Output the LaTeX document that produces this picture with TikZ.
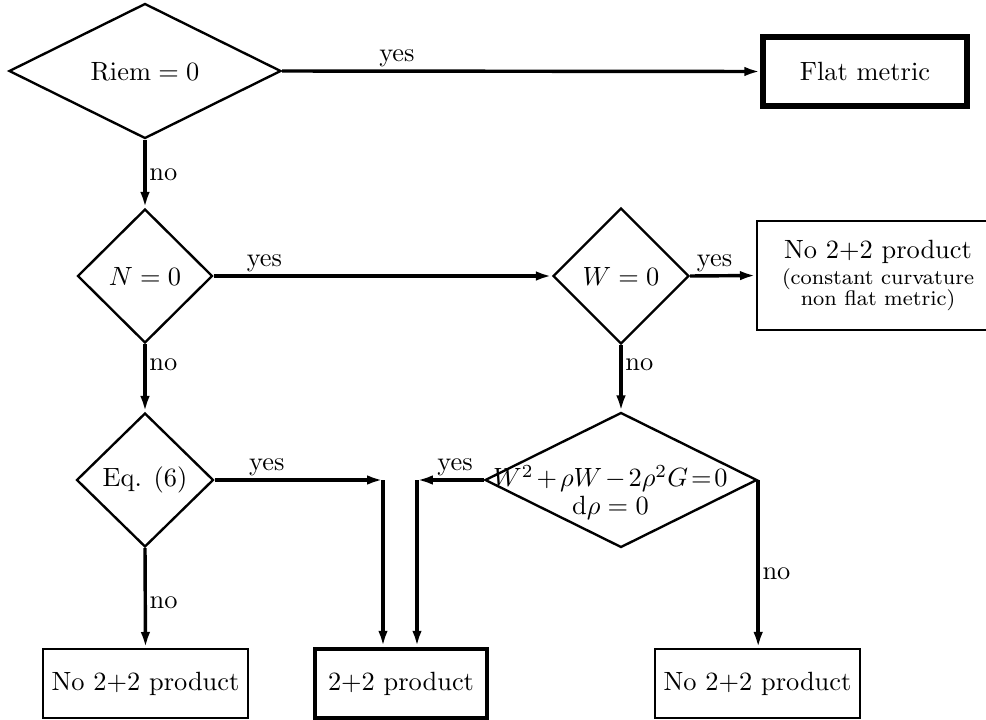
\documentclass[tikz,border=0pt]{standalone}
\usetikzlibrary{shapes.geometric,arrows.meta}

\newcommand{\unitpx}{0.379pt}

\tikzset{
	test/.style={draw, diamond, line width=0.9pt, inner sep=0pt, align=center},
	outcome/.style={draw, rectangle, line width=0.9pt, inner sep=2pt, align=center},
	final/.style={outcome, line width=1.8pt},
	flow/.style={line width=1.3pt, -{Latex[length=6pt,width=3.6pt]}},
	lbl/.style={inner sep=1pt}
}

\begin{document}
\begin{tikzpicture}[x=\unitpx, y=-\unitpx]
		\useasboundingbox (0,0) rectangle (986,720);
		\clip (0,0) rectangle (986,720);

		% decisions
		\node (riem) [test, minimum width=272*\unitpx, minimum height=135*\unitpx] at (145,71) {$\mathrm{Riem}=0$};
		\node (nzero) [test, minimum width=135*\unitpx, minimum height=134*\unitpx] at (145,276) {$N=0$};
		\node (wzero) [test, minimum width=136*\unitpx, minimum height=136*\unitpx] at (621,276) {$W=0$};
		\node (eqsix) [test, minimum width=137*\unitpx, minimum height=134*\unitpx] at (145,480) {Eq. (6)};
		\node (cond) [test, minimum width=272*\unitpx, minimum height=135*\unitpx] at (621,480)
			{\makebox[0pt]{\kern-8pt\smash{\raisebox{-2.6pt}{\begin{tabular}[t]{@{}c@{}}
				$W^2\mkern2mu{+}\mkern2mu\rho W\mkern2mu{-}\mkern2mu2\rho^2G\mkern2mu{=}\mkern2mu0$\\[-1.5pt]
				$\mathrm{d}\rho=0$
			\end{tabular}}}}};

		% results
		\node (flat) [final, line width=2.1pt, minimum width=204*\unitpx, minimum height=69*\unitpx] at (865,71.5) {Flat metric};
		\node (constcurv) [outcome, minimum width=242*\unitpx, minimum height=109*\unitpx] at (878,275.5)
			{No 2+2 product\\[-2pt]\footnotesize(constant curvature\\[-4pt]\footnotesize non flat metric)};
		\node (noprodleft) [outcome, minimum width=205*\unitpx, minimum height=69*\unitpx] at (145.5,683.5) {No 2+2 product};
		\node (prod) [final, minimum width=172*\unitpx, minimum height=69*\unitpx] at (401,683.5) {2+2 product};
		\node (noprodright) [outcome, minimum width=205*\unitpx, minimum height=69*\unitpx] at (757.5,683.5) {No 2+2 product};

		\coordinate (joinleft) at (383,480);
		\coordinate (joinright) at (417,480);

		% connectors
		\draw [flow] (riem.east) -- node [lbl, above, pos=.24] {yes} (flat.west);
		\draw [flow] (riem.south) -- node [lbl, right, pos=.52] {no} (nzero.north);
		\draw [flow] (nzero.east) -- node [lbl, above, pos=.15] {yes} (wzero.west);
		\draw [flow] (wzero.east) -- node [lbl, above, pos=.37] {yes} (constcurv.west);
		\draw [flow] (nzero.south) -- node [lbl, right, pos=.3] {no} (eqsix.north);
		\draw [flow] (wzero.south) -- node [lbl, right, pos=.29] {no} (cond.north);
		\draw [flow] (eqsix.east) -- node [lbl, above, pos=.31] {yes} (joinleft);
		\draw [flow] (joinleft) -- (joinleft |- prod.north);
		\draw [flow] (cond.west) -- node [lbl, above, pos=.43] {yes} (joinright);
		\draw [flow] (joinright) -- (joinright |- prod.north);
		\draw [flow] (eqsix.south) -- node [lbl, right, pos=.55] {no} (noprodleft.north);
		\draw [flow] (cond.east) -- node [lbl, right, pos=.56] {no} (cond.east |- noprodright.north);
	\end{tikzpicture}
\end{document}
